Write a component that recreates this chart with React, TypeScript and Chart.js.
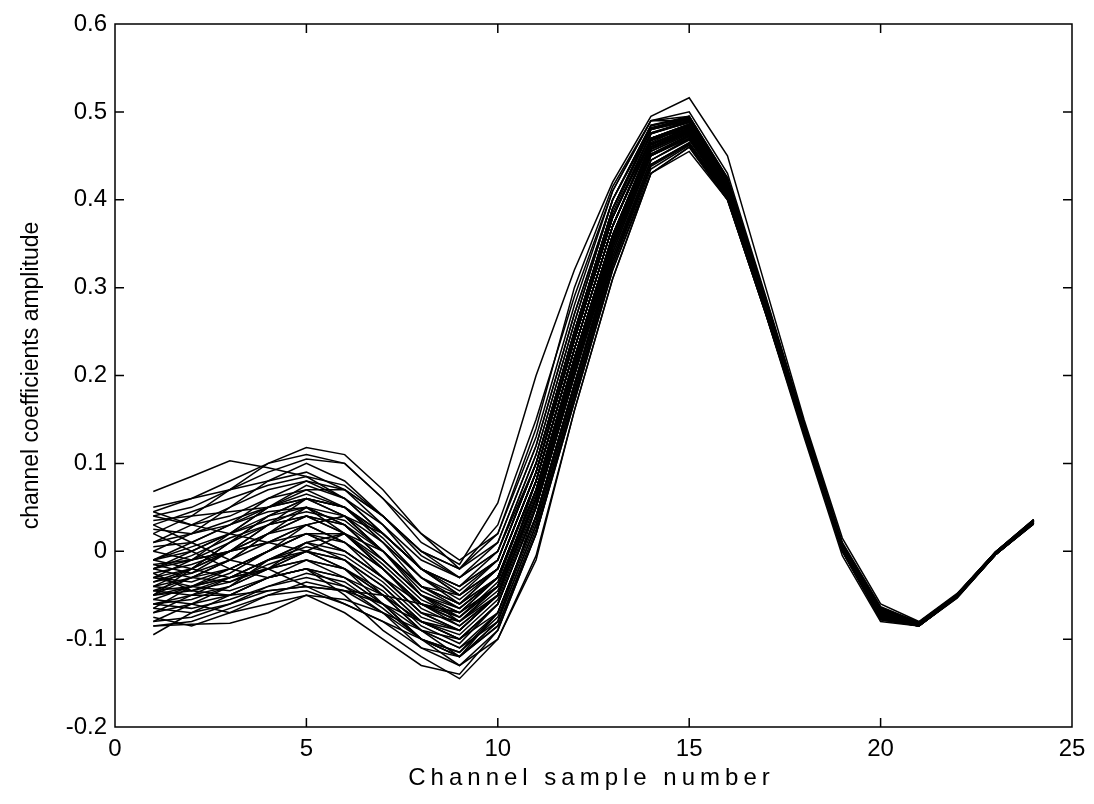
import React, { useEffect, useRef } from "react";
import { Chart, registerables } from "chart.js";

Chart.register(...registerables);

const sampleNumbers = [1, 2, 3, 4, 5, 6, 7, 8, 9, 10, 11, 12, 13, 14, 15, 16, 17, 18, 19, 20, 21, 22, 23, 24];
const xTicks = [0, 5, 10, 15, 20, 25];
const yTicks = [-0.2, -0.1, 0, 0.1, 0.2, 0.3, 0.4, 0.5, 0.6];
const xTitle = "Channel sample number";
const yTitle = "channel coefficients amplitude";

const s01 = [0.068, 0.085, 0.103, 0.095, 0.085, 0.06, 0.02, -0.02, -0.04, 0.0, 0.1, 0.24, 0.38, 0.47, 0.48, 0.41, 0.28, 0.14, 0.005, -0.07, -0.083, -0.05, -0.003, 0.034];
const s02 = [0.04, 0.05, 0.07, 0.09, 0.105, 0.1, 0.06, 0.01, -0.015, 0.055, 0.2, 0.32, 0.42, 0.495, 0.516, 0.45, 0.3, 0.15, 0.015, -0.06, -0.08, -0.048, -0.001, 0.036];
const s03 = [0.02, 0.04, 0.07, 0.1, 0.118, 0.11, 0.07, 0.02, -0.02, 0.03, 0.15, 0.29, 0.41, 0.49, 0.49, 0.42, 0.285, 0.145, 0.008, -0.065, -0.082, -0.05, -0.002, 0.035];
const s04 = [-0.085, -0.083, -0.082, -0.07, -0.05, -0.07, -0.1, -0.13, -0.14, -0.09, 0.02, 0.17, 0.32, 0.43, 0.455, 0.4, 0.27, 0.135, 0.0, -0.078, -0.085, -0.052, -0.004, 0.032];
const s05 = [-0.095, -0.07, -0.05, -0.03, -0.02, -0.05, -0.09, -0.12, -0.145, -0.1, -0.01, 0.16, 0.31, 0.43, 0.46, 0.4, 0.27, 0.13, -0.005, -0.08, -0.085, -0.053, -0.004, 0.031];
const s06 = [-0.05, -0.04, -0.045, -0.03, -0.02, -0.04, -0.06, -0.09, -0.12, -0.08, 0.05, 0.2, 0.34, 0.45, 0.47, 0.405, 0.275, 0.14, 0.002, -0.075, -0.084, -0.052, -0.003, 0.033];
const s07 = [0.05, 0.06, 0.07, 0.08, 0.09, 0.07, 0.04, 0.0, -0.02, 0.01, 0.12, 0.27, 0.4, 0.48, 0.495, 0.42, 0.285, 0.145, 0.008, -0.066, -0.082, -0.05, -0.002, 0.035];
const s08 = [0.045, 0.03, 0.02, 0.01, 0.0, -0.02, -0.05, -0.08, -0.09, -0.05, 0.08, 0.23, 0.37, 0.47, 0.48, 0.415, 0.28, 0.14, 0.005, -0.07, -0.083, -0.05, -0.003, 0.034];
const s09 = [-0.02, 0.0, 0.02, 0.04, 0.06, 0.04, 0.0, -0.04, -0.06, -0.02, 0.09, 0.24, 0.38, 0.475, 0.49, 0.418, 0.282, 0.142, 0.006, -0.068, -0.082, -0.05, -0.002, 0.034];
const s10 = [-0.03, -0.02, 0.0, 0.02, 0.05, 0.03, -0.01, -0.05, -0.07, -0.04, 0.07, 0.22, 0.36, 0.465, 0.485, 0.415, 0.28, 0.14, 0.004, -0.07, -0.083, -0.05, -0.003, 0.033];
const s11 = [-0.01, 0.01, 0.03, 0.06, 0.07, 0.05, 0.01, -0.03, -0.05, -0.01, 0.1, 0.25, 0.39, 0.48, 0.49, 0.42, 0.283, 0.143, 0.006, -0.067, -0.082, -0.05, -0.002, 0.035];
const s12 = [-0.06, -0.05, -0.03, -0.01, 0.01, -0.01, -0.04, -0.08, -0.1, -0.06, 0.05, 0.2, 0.35, 0.455, 0.475, 0.41, 0.277, 0.138, 0.003, -0.073, -0.084, -0.051, -0.003, 0.033];
const s13 = [-0.04, -0.02, 0.01, 0.03, 0.04, 0.02, -0.02, -0.06, -0.08, -0.04, 0.07, 0.22, 0.36, 0.46, 0.48, 0.413, 0.279, 0.14, 0.004, -0.071, -0.083, -0.05, -0.003, 0.033];
const s14 = [0.0, 0.02, 0.05, 0.07, 0.08, 0.06, 0.03, -0.01, -0.03, 0.0, 0.11, 0.26, 0.4, 0.485, 0.495, 0.425, 0.287, 0.145, 0.008, -0.065, -0.081, -0.049, -0.001, 0.036];
const s15 = [-0.08, -0.075, -0.06, -0.045, -0.04, -0.06, -0.08, -0.11, -0.12, -0.07, 0.04, 0.19, 0.33, 0.44, 0.465, 0.405, 0.273, 0.136, 0.001, -0.076, -0.085, -0.052, -0.004, 0.032];
const s16 = [0.03, 0.01, -0.01, -0.02, -0.04, -0.045, -0.05, -0.06, -0.07, -0.04, 0.06, 0.21, 0.35, 0.46, 0.478, 0.41, 0.277, 0.139, 0.003, -0.072, -0.084, -0.051, -0.003, 0.033];
const s17 = [-0.07, -0.06, -0.07, -0.05, -0.045, -0.06, -0.08, -0.1, -0.13, -0.1, -0.005, 0.16, 0.31, 0.43, 0.46, 0.4, 0.27, 0.133, 0.0, -0.078, -0.085, -0.053, -0.004, 0.031];
const s18 = [-0.03, -0.035, -0.02, 0.0, 0.02, 0.0, -0.03, -0.07, -0.09, -0.05, 0.06, 0.21, 0.35, 0.46, 0.478, 0.412, 0.278, 0.139, 0.003, -0.072, -0.083, -0.05, -0.003, 0.033];
const s19 = [0.01, 0.03, 0.05, 0.08, 0.1, 0.08, 0.04, 0.0, -0.02, 0.02, 0.13, 0.28, 0.41, 0.49, 0.495, 0.425, 0.288, 0.146, 0.009, -0.064, -0.081, -0.049, -0.001, 0.036];
const s20 = [-0.05, -0.03, -0.01, 0.02, 0.03, 0.01, -0.03, -0.07, -0.09, -0.05, 0.06, 0.21, 0.355, 0.46, 0.48, 0.413, 0.279, 0.14, 0.004, -0.072, -0.083, -0.05, -0.003, 0.033];
const s21 = [-0.015, -0.01, 0.01, 0.04, 0.05, 0.03, -0.01, -0.05, -0.075, -0.035, 0.08, 0.23, 0.37, 0.47, 0.485, 0.416, 0.281, 0.141, 0.005, -0.07, -0.083, -0.05, -0.002, 0.034];
const s22 = [-0.08, -0.06, -0.04, -0.01, 0.0, -0.02, -0.06, -0.1, -0.115, -0.07, 0.04, 0.19, 0.335, 0.445, 0.47, 0.407, 0.274, 0.137, 0.002, -0.075, -0.084, -0.052, -0.004, 0.032];
const s23 = [0.035, 0.04, 0.045, 0.05, 0.06, 0.04, 0.0, -0.04, -0.05, -0.02, 0.09, 0.24, 0.38, 0.476, 0.49, 0.42, 0.283, 0.143, 0.006, -0.068, -0.082, -0.05, -0.002, 0.034];
const s24 = [-0.045, -0.05, -0.04, -0.02, 0.01, 0.02, -0.01, -0.05, -0.08, -0.045, 0.065, 0.215, 0.355, 0.462, 0.48, 0.412, 0.278, 0.139, 0.003, -0.072, -0.083, -0.051, -0.003, 0.033];
const s25 = [-0.06, -0.065, -0.055, -0.04, -0.03, -0.04, -0.07, -0.11, -0.13, -0.09, 0.02, 0.17, 0.32, 0.435, 0.462, 0.402, 0.271, 0.134, 0.0, -0.077, -0.085, -0.052, -0.004, 0.031];
const s26 = [-0.02, -0.03, -0.01, 0.01, 0.03, 0.01, -0.02, -0.06, -0.07, -0.03, 0.08, 0.23, 0.37, 0.468, 0.483, 0.415, 0.28, 0.14, 0.004, -0.07, -0.083, -0.05, -0.003, 0.034];
const s27 = [0.0, -0.01, 0.0, 0.01, 0.02, 0.0, -0.03, -0.06, -0.08, -0.05, 0.06, 0.21, 0.35, 0.458, 0.477, 0.41, 0.277, 0.138, 0.003, -0.073, -0.084, -0.051, -0.003, 0.033];
const s28 = [-0.035, -0.025, 0.0, 0.03, 0.06, 0.05, 0.02, -0.02, -0.05, -0.02, 0.09, 0.245, 0.385, 0.48, 0.492, 0.42, 0.284, 0.144, 0.007, -0.067, -0.082, -0.05, -0.002, 0.035];
const s29 = [-0.075, -0.085, -0.07, -0.06, -0.05, -0.055, -0.07, -0.09, -0.11, -0.08, 0.03, 0.18, 0.33, 0.44, 0.465, 0.404, 0.272, 0.135, 0.001, -0.076, -0.085, -0.052, -0.004, 0.032];
const s30 = [0.02, 0.0, -0.02, -0.03, -0.02, -0.03, -0.06, -0.1, -0.12, -0.08, 0.03, 0.18, 0.33, 0.445, 0.468, 0.406, 0.273, 0.136, 0.001, -0.075, -0.084, -0.052, -0.004, 0.032];
const s31 = [-0.01, 0.0, 0.02, 0.05, 0.075, 0.06, 0.02, -0.02, -0.04, -0.01, 0.1, 0.25, 0.39, 0.482, 0.493, 0.422, 0.285, 0.144, 0.007, -0.066, -0.082, -0.05, -0.002, 0.035];
const s32 = [-0.055, -0.04, -0.02, 0.0, 0.02, 0.02, -0.02, -0.06, -0.085, -0.05, 0.06, 0.21, 0.35, 0.46, 0.478, 0.412, 0.278, 0.139, 0.003, -0.072, -0.083, -0.051, -0.003, 0.033];
const s33 = [-0.025, -0.015, 0.0, 0.02, 0.04, 0.03, 0.0, -0.04, -0.065, -0.03, 0.08, 0.23, 0.37, 0.47, 0.486, 0.417, 0.281, 0.141, 0.005, -0.069, -0.082, -0.05, -0.002, 0.034];
const s34 = [-0.065, -0.04, -0.03, -0.02, -0.01, -0.03, -0.05, -0.08, -0.1, -0.06, 0.05, 0.2, 0.345, 0.452, 0.474, 0.409, 0.276, 0.137, 0.002, -0.074, -0.084, -0.051, -0.003, 0.033];
const s35 = [0.045, 0.06, 0.08, 0.1, 0.11, 0.1, 0.06, 0.02, -0.01, 0.02, 0.14, 0.3, 0.415, 0.49, 0.5, 0.43, 0.29, 0.147, 0.01, -0.063, -0.081, -0.049, -0.001, 0.036];
const s36 = [-0.04, -0.045, -0.05, -0.045, -0.04, -0.045, -0.06, -0.08, -0.1, -0.07, 0.04, 0.19, 0.34, 0.45, 0.472, 0.408, 0.275, 0.137, 0.002, -0.074, -0.084, -0.051, -0.003, 0.032];
const s37 = [-0.01, -0.02, -0.03, -0.02, 0.0, 0.02, 0.0, -0.04, -0.06, -0.03, 0.08, 0.23, 0.37, 0.467, 0.483, 0.415, 0.28, 0.14, 0.004, -0.07, -0.083, -0.05, -0.003, 0.034];
const s38 = [-0.085, -0.08, -0.065, -0.05, -0.035, -0.045, -0.07, -0.1, -0.12, -0.085, 0.025, 0.175, 0.325, 0.44, 0.464, 0.404, 0.272, 0.135, 0.001, -0.076, -0.085, -0.052, -0.004, 0.032];
const s39 = [0.01, 0.02, 0.035, 0.05, 0.065, 0.05, 0.015, -0.03, -0.055, -0.02, 0.09, 0.24, 0.38, 0.475, 0.488, 0.419, 0.283, 0.142, 0.006, -0.068, -0.082, -0.05, -0.002, 0.034];
const s40 = [-0.045, -0.03, -0.035, -0.02, -0.01, -0.02, -0.045, -0.085, -0.105, -0.06, 0.05, 0.2, 0.345, 0.455, 0.475, 0.41, 0.276, 0.138, 0.002, -0.073, -0.084, -0.051, -0.003, 0.033];
const s41 = [-0.03, -0.04, -0.03, -0.01, 0.01, 0.0, -0.03, -0.07, -0.08, -0.04, 0.07, 0.22, 0.36, 0.463, 0.481, 0.414, 0.279, 0.14, 0.004, -0.071, -0.083, -0.05, -0.003, 0.033];
const s42 = [-0.05, -0.02, 0.0, 0.03, 0.05, 0.04, 0.0, -0.05, -0.07, -0.03, 0.08, 0.23, 0.37, 0.47, 0.486, 0.416, 0.28, 0.14, 0.005, -0.069, -0.082, -0.05, -0.002, 0.034];
const s43 = [-0.02, -0.01, 0.02, 0.05, 0.07, 0.07, 0.03, -0.02, -0.045, -0.01, 0.1, 0.25, 0.39, 0.48, 0.49, 0.42, 0.284, 0.143, 0.006, -0.067, -0.082, -0.05, -0.002, 0.035];
const s44 = [-0.06, -0.055, -0.04, -0.02, 0.0, -0.01, -0.05, -0.09, -0.11, -0.07, 0.04, 0.19, 0.34, 0.45, 0.472, 0.408, 0.275, 0.137, 0.002, -0.074, -0.084, -0.051, -0.003, 0.032];
const s45 = [0.04, 0.03, 0.04, 0.06, 0.08, 0.07, 0.04, 0.0, -0.03, 0.01, 0.12, 0.27, 0.4, 0.485, 0.493, 0.423, 0.286, 0.145, 0.008, -0.065, -0.081, -0.049, -0.001, 0.035];
const s46 = [-0.04, -0.03, -0.02, 0.0, 0.03, 0.04, 0.01, -0.03, -0.06, -0.03, 0.08, 0.23, 0.37, 0.468, 0.484, 0.415, 0.28, 0.14, 0.004, -0.07, -0.083, -0.05, -0.003, 0.034];
const s47 = [-0.07, -0.05, -0.05, -0.03, -0.01, -0.02, -0.05, -0.09, -0.1, -0.06, 0.05, 0.2, 0.345, 0.452, 0.473, 0.409, 0.276, 0.137, 0.002, -0.074, -0.084, -0.051, -0.003, 0.033];
const s48 = [-0.015, -0.025, -0.01, 0.02, 0.04, 0.03, -0.01, -0.05, -0.065, -0.03, 0.08, 0.23, 0.37, 0.47, 0.486, 0.416, 0.281, 0.141, 0.005, -0.069, -0.082, -0.05, -0.002, 0.034];
const s49 = [0.025, 0.02, 0.03, 0.045, 0.05, 0.02, -0.02, -0.06, -0.075, -0.04, 0.07, 0.22, 0.36, 0.463, 0.482, 0.414, 0.279, 0.14, 0.004, -0.071, -0.083, -0.05, -0.003, 0.033];
const s50 = [-0.055, -0.06, -0.05, -0.03, -0.02, -0.03, -0.06, -0.1, -0.115, -0.075, 0.035, 0.185, 0.335, 0.445, 0.469, 0.406, 0.274, 0.136, 0.001, -0.075, -0.084, -0.052, -0.004, 0.032];
const s51 = [-0.035, -0.02, 0.01, 0.04, 0.06, 0.05, 0.01, -0.04, -0.06, -0.02, 0.09, 0.24, 0.38, 0.475, 0.489, 0.418, 0.282, 0.142, 0.006, -0.068, -0.082, -0.05, -0.002, 0.034];
const s52 = [-0.025, -0.045, -0.035, -0.015, 0.0, -0.01, -0.04, -0.08, -0.095, -0.055, 0.055, 0.205, 0.35, 0.457, 0.476, 0.411, 0.277, 0.138, 0.003, -0.073, -0.084, -0.051, -0.003, 0.033];
const s53 = [0.005, 0.01, 0.03, 0.05, 0.06, 0.05, 0.02, -0.02, -0.04, -0.01, 0.1, 0.25, 0.39, 0.481, 0.492, 0.421, 0.285, 0.144, 0.007, -0.066, -0.082, -0.05, -0.002, 0.035];
const s54 = [-0.045, -0.04, -0.025, 0.0, 0.02, 0.01, -0.02, -0.065, -0.085, -0.05, 0.06, 0.21, 0.35, 0.46, 0.479, 0.412, 0.278, 0.139, 0.003, -0.072, -0.083, -0.051, -0.003, 0.033];
const s55 = [-0.065, -0.07, -0.06, -0.04, -0.025, -0.035, -0.065, -0.1, -0.12, -0.085, 0.02, 0.175, 0.325, 0.438, 0.463, 0.403, 0.271, 0.135, 0.0, -0.077, -0.085, -0.052, -0.004, 0.032];
const s56 = [-0.01, 0.005, 0.02, 0.035, 0.045, 0.035, 0.0, -0.045, -0.065, -0.03, 0.08, 0.23, 0.37, 0.469, 0.485, 0.416, 0.281, 0.141, 0.005, -0.069, -0.082, -0.05, -0.002, 0.034];
const s57 = [-0.03, -0.01, 0.0, 0.01, 0.03, 0.04, 0.02, -0.02, -0.05, -0.02, 0.09, 0.24, 0.38, 0.476, 0.488, 0.418, 0.282, 0.142, 0.006, -0.068, -0.082, -0.05, -0.002, 0.034];
const s58 = [-0.05, -0.045, -0.03, -0.01, 0.005, -0.005, -0.035, -0.075, -0.09, -0.05, 0.06, 0.21, 0.352, 0.458, 0.477, 0.411, 0.277, 0.138, 0.003, -0.073, -0.084, -0.051, -0.003, 0.033];
const s59 = [0.03, 0.045, 0.06, 0.075, 0.085, 0.075, 0.04, -0.005, -0.03, 0.0, 0.11, 0.26, 0.4, 0.484, 0.494, 0.424, 0.287, 0.145, 0.008, -0.065, -0.081, -0.049, -0.001, 0.035];
const s60 = [-0.02, -0.005, 0.015, 0.03, 0.04, 0.02, -0.015, -0.055, -0.075, -0.04, 0.07, 0.22, 0.36, 0.464, 0.482, 0.414, 0.279, 0.14, 0.004, -0.071, -0.083, -0.05, -0.003, 0.033];

const allSeries = [s01, s02, s03, s04, s05, s06, s07, s08, s09, s10, s11, s12, s13, s14, s15, s16, s17, s18, s19, s20,
  s21, s22, s23, s24, s25, s26, s27, s28, s29, s30, s31, s32, s33, s34, s35, s36, s37, s38, s39, s40,
  s41, s42, s43, s44, s45, s46, s47, s48, s49, s50, s51, s52, s53, s54, s55, s56, s57, s58, s59, s60];

const FONT = "'Liberation Sans', Arial, Helvetica, sans-serif";

const framePlugin = {
  id: "matlabFrame",
  afterDraw(chart: any) {
    const { ctx, chartArea } = chart;
    const { left, right, top, bottom } = chartArea;
    const xs = chart.scales.x;
    const ys = chart.scales.y;
    const tl = 9;
    ctx.save();
    ctx.strokeStyle = "#000";
    ctx.lineWidth = 1.5;
    ctx.beginPath();
    ctx.rect(left, top, right - left, bottom - top);
    xTicks.forEach((v) => {
      const px = xs.getPixelForValue(v);
      ctx.moveTo(px, bottom);
      ctx.lineTo(px, bottom - tl);
      ctx.moveTo(px, top);
      ctx.lineTo(px, top + tl);
    });
    yTicks.forEach((v) => {
      const py = ys.getPixelForValue(v);
      ctx.moveTo(left, py);
      ctx.lineTo(left + tl, py);
      ctx.moveTo(right, py);
      ctx.lineTo(right - tl, py);
    });
    ctx.stroke();
    // x-axis title with the wide letter spacing of the original print
    ctx.fillStyle = "#000";
    ctx.font = `24px ${FONT}`;
    ctx.textAlign = "center";
    ctx.textBaseline = "middle";
    try {
      (ctx as any).letterSpacing = "5px";
    } catch (e) {}
    ctx.fillText(xTitle, (left + right) / 2 - 2, 778);
    try {
      (ctx as any).letterSpacing = "0px";
    } catch (e) {}
    ctx.restore();
  },
};

export default function App() {
  const ref = useRef<HTMLCanvasElement | null>(null);

  useEffect(() => {
    if (!ref.current) return;
    const datasets = allSeries.map((vals, i) => ({
      label: `s${i + 1}`,
      data: vals.map((v, k) => ({ x: sampleNumbers[k], y: v })),
      borderColor: "#000",
      borderWidth: 1.5,
      pointRadius: 0,
      fill: false,
      tension: 0,
    }));
    const chart = new Chart(ref.current, {
      type: "line",
      data: { datasets },
      options: {
        responsive: false,
        animation: false,
        devicePixelRatio: 1,
        layout: { padding: { top: 24, right: 22, left: 0, bottom: 0 } },
        plugins: { legend: { display: false }, tooltip: { enabled: false } },
        scales: {
          x: {
            type: "linear",
            min: 0,
            max: 25,
            afterBuildTicks: (scale: any) => {
              scale.ticks = xTicks.map((v) => ({ value: v }));
            },
            afterFit: (scale: any) => {
              scale.height = 77;
            },
            grid: { display: false, drawTicks: false },
            border: { display: false },
            ticks: {
              color: "#000",
              padding: 8,
              maxRotation: 0,
              font: { family: FONT, size: 24 },
              callback: (v: any) => String(v),
            },
            title: { display: false },
          },
          y: {
            type: "linear",
            min: -0.2,
            max: 0.6,
            afterBuildTicks: (scale: any) => {
              scale.ticks = yTicks.map((v) => ({ value: v }));
            },
            afterFit: (scale: any) => {
              scale.width = 115;
            },
            grid: { display: false, drawTicks: false },
            border: { display: false },
            ticks: {
              color: "#000",
              padding: 8,
              font: { family: FONT, size: 24 },
              callback: (v: any) => String(Number(Number(v).toFixed(1))),
            },
            title: {
              display: true,
              text: yTitle,
              color: "#000",
              font: { family: FONT, size: 23 },
              padding: { top: 18, bottom: 0 },
            },
          },
        },
      },
      plugins: [framePlugin],
    });
    return () => chart.destroy();
  }, []);

  return (
    <canvas
      ref={ref}
      width={1094}
      height={804}
      style={{ position: "absolute", left: 0, top: 0, width: 1094, height: 804, background: "#fff" }}
    />
  );
}
